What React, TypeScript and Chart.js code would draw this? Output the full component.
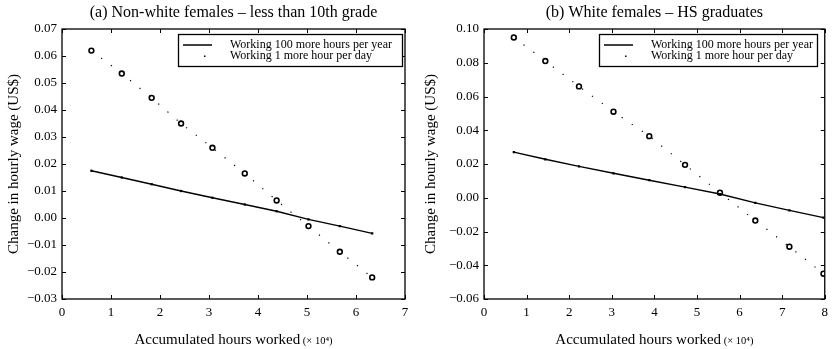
import React, { useEffect, useRef } from "react";
import { Chart, registerables } from "chart.js";

Chart.register(...registerables);

// ---------- data ----------
const leftTitle = "(a) Non-white females \u2013 less than 10th grade";
const leftX = [0.6, 1.22, 1.83, 2.43, 3.07, 3.73, 4.38, 5.03, 5.67, 6.33];
const leftYear = [0.0175, 0.015, 0.0125, 0.01, 0.0075, 0.005, 0.0025, -0.0005, -0.003, -0.0057];
const leftDay = [0.062, 0.0535, 0.0445, 0.035, 0.026, 0.0165, 0.0065, -0.003, -0.0125, -0.022];
const leftXTicks = [0, 1, 2, 3, 4, 5, 6, 7];
const leftYTicks = [-0.03, -0.02, -0.01, 0.0, 0.01, 0.02, 0.03, 0.04, 0.05, 0.06, 0.07];

const rightTitle = "(b) White females \u2013 HS graduates";
const rightX = [0.7, 1.44, 2.23, 3.04, 3.88, 4.72, 5.54, 6.37, 7.17, 7.97];
const rightYear = [0.027, 0.0228, 0.0186, 0.0145, 0.0104, 0.0063, 0.0022, -0.003, -0.0075, -0.0118];
const rightDay = [0.095, 0.081, 0.066, 0.051, 0.0365, 0.0195, 0.003, -0.0135, -0.029, -0.045];
const rightXTicks = [0, 1, 2, 3, 4, 5, 6, 7, 8];
const rightYTicks = [-0.06, -0.04, -0.02, 0.0, 0.02, 0.04, 0.06, 0.08, 0.1];

const seriesNames = ["Working 100 more hours per year", "Working 1 more hour per day"];
const yAxisTitle = "Change in hourly wage (US$)";
const xAxisTitle = "Accumulated hours worked";
const xAxisUnit = " (\u00d7 10\u2074)";

const FONT = "'Liberation Serif', 'Times New Roman', serif";

function fmt(v: number) {
  const s = Math.abs(v).toFixed(2);
  return v < -1e-9 ? "\u2212" + s : s;
}

type PanelProps = {
  width: number;
  height: number;
  title: string;
  xs: number[];
  year: number[];
  day: number[];
  xTicks: number[];
  yTicks: number[];
  yAxisWidth: number;
  padRight: number;
  legendRightGap: number;
  legendWidth: number;
};

function Panel(p: PanelProps) {
  const ref = useRef<HTMLCanvasElement | null>(null);
  useEffect(() => {
    const canvas = ref.current;
    if (!canvas) return;

    const framePlugin = {
      id: "frame",
      afterDraw(chart: any) {
        const { ctx, chartArea: a, scales } = chart;
        const x = scales.x;
        const y = scales.y;
        ctx.save();
        ctx.strokeStyle = "#000";
        ctx.lineWidth = 1.3;
        ctx.strokeRect(a.left, a.top, a.right - a.left, a.bottom - a.top);
        ctx.lineWidth = 1;
        const tl = 4;
        x.ticks.forEach((_t: any, i: number) => {
          const px = Math.round(x.getPixelForTick(i)) + 0.5;
          ctx.beginPath();
          ctx.moveTo(px, a.bottom);
          ctx.lineTo(px, a.bottom - tl);
          ctx.moveTo(px, a.top);
          ctx.lineTo(px, a.top + tl);
          ctx.stroke();
        });
        y.ticks.forEach((_t: any, i: number) => {
          const py = Math.round(y.getPixelForTick(i)) + 0.5;
          ctx.beginPath();
          ctx.moveTo(a.left, py);
          ctx.lineTo(a.left + tl, py);
          ctx.moveTo(a.right, py);
          ctx.lineTo(a.right - tl, py);
          ctx.stroke();
        });

        // title
        const cx = (a.left + a.right) / 2;
        ctx.fillStyle = "#000";
        ctx.textAlign = "center";
        ctx.textBaseline = "middle";
        ctx.font = `16px ${FONT}`;
        ctx.fillText(p.title, cx, 13);

        // x axis title
        ctx.font = `15px ${FONT}`;
        const w1 = ctx.measureText(xAxisTitle).width;
        ctx.font = `10.5px ${FONT}`;
        const w2 = ctx.measureText(xAxisUnit).width;
        const sx = cx - (w1 + w2) / 2;
        ctx.textAlign = "left";
        ctx.textBaseline = "alphabetic";
        ctx.font = `15px ${FONT}`;
        ctx.fillText(xAxisTitle, sx, 344);
        ctx.font = `10.5px ${FONT}`;
        ctx.fillText(xAxisUnit, sx + w1, 344);

        // legend
        const bw = p.legendWidth;
        const bh = 32;
        const bx = Math.round(a.right - p.legendRightGap - bw);
        const by = Math.round(a.top + 5);
        ctx.fillStyle = "#fff";
        ctx.fillRect(bx, by, bw, bh);
        ctx.lineWidth = 1.3;
        ctx.strokeStyle = "#000";
        ctx.strokeRect(bx + 0.5, by + 0.5, bw, bh);
        const r1 = by + 11;
        const r2 = by + 22;
        ctx.lineWidth = 1.5;
        ctx.beginPath();
        ctx.moveTo(bx + 5, r1);
        ctx.lineTo(bx + 34, r1);
        ctx.stroke();
        ctx.fillStyle = "#000";
        ctx.fillRect(bx + 26, r2 - 0.5, 1.5, 1.5);
        ctx.font = `12px ${FONT}`;
        ctx.textAlign = "left";
        ctx.textBaseline = "middle";
        ctx.fillText(seriesNames[0], bx + 52, r1);
        ctx.fillText(seriesNames[1], bx + 52, r2);
        ctx.restore();
      },
    };

    const chart = new Chart(canvas, {
      type: "scatter",
      data: {
        datasets: [
          {
            label: seriesNames[0],
            data: p.xs.map((x, i) => ({ x, y: p.year[i] })),
            showLine: true,
            borderColor: "#000",
            backgroundColor: "#000",
            borderWidth: 1.4,
            pointRadius: 1.6,
            pointStyle: "rect",
            pointBorderWidth: 0,
          },
          {
            label: seriesNames[1],
            data: p.xs.map((x, i) => ({ x, y: p.day[i] })),
            showLine: true,
            borderColor: "#000",
            backgroundColor: "#fff",
            borderWidth: 1.2,
            borderDash: [1.2, 11],
            pointRadius: 2.4,
            pointBorderWidth: 1.6,
            pointBorderColor: "#000",
            pointBackgroundColor: "#fff",
          },
        ],
      },
      options: {
        responsive: false,
        animation: false,
        layout: { padding: { left: 0, right: p.padRight, top: 29, bottom: 0 } },
        plugins: {
          legend: { display: false },
          title: { display: false },
          tooltip: { enabled: false },
        },
        scales: {
          x: {
            type: "linear",
            min: p.xTicks[0],
            max: p.xTicks[p.xTicks.length - 1],
            afterBuildTicks: (s: any) => {
              s.ticks = p.xTicks.map((v) => ({ value: v }));
            },
            afterFit: (s: any) => {
              s.height = 50;
            },
            grid: { display: false, drawTicks: false },
            border: { display: false },
            ticks: {
              color: "#000",
              font: { family: FONT, size: 13 },
              padding: 6,
              maxRotation: 0,
              callback: (v: any) => String(v),
            },
          },
          y: {
            type: "linear",
            min: p.yTicks[0],
            max: p.yTicks[p.yTicks.length - 1],
            afterBuildTicks: (s: any) => {
              s.ticks = p.yTicks.map((v) => ({ value: v }));
            },
            afterFit: (s: any) => {
              s.width = p.yAxisWidth;
            },
            grid: { display: false, drawTicks: false },
            border: { display: false },
            title: {
              display: true,
              text: yAxisTitle,
              color: "#000",
              font: { family: FONT, size: 15 },
              padding: { top: 5, bottom: 0 },
            },
            ticks: {
              color: "#000",
              font: { family: FONT, size: 13 },
              padding: 5,
              callback: (v: any) => fmt(Number(v)),
            },
          },
        },
      },
      plugins: [framePlugin],
    } as any);
    return () => chart.destroy();
  }, []);
  return <canvas ref={ref} width={p.width} height={p.height} style={{ display: "block" }} />;
}

export default function App() {
  return (
    <div style={{ position: "fixed", left: 0, top: 0, width: 834, height: 349, display: "flex", background: "#fff" }}>
      <Panel
        width={417}
        height={349}
        title={leftTitle}
        xs={leftX}
        year={leftYear}
        day={leftDay}
        xTicks={leftXTicks}
        yTicks={leftYTicks}
        yAxisWidth={62}
        padRight={12}
        legendRightGap={3}
        legendWidth={224}
      />
      <Panel
        width={417}
        height={349}
        title={rightTitle}
        xs={rightX}
        year={rightYear}
        day={rightDay}
        xTicks={rightXTicks}
        yTicks={rightYTicks}
        yAxisWidth={67}
        padRight={5}
        legendRightGap={8}
        legendWidth={218}
      />
    </div>
  );
}
